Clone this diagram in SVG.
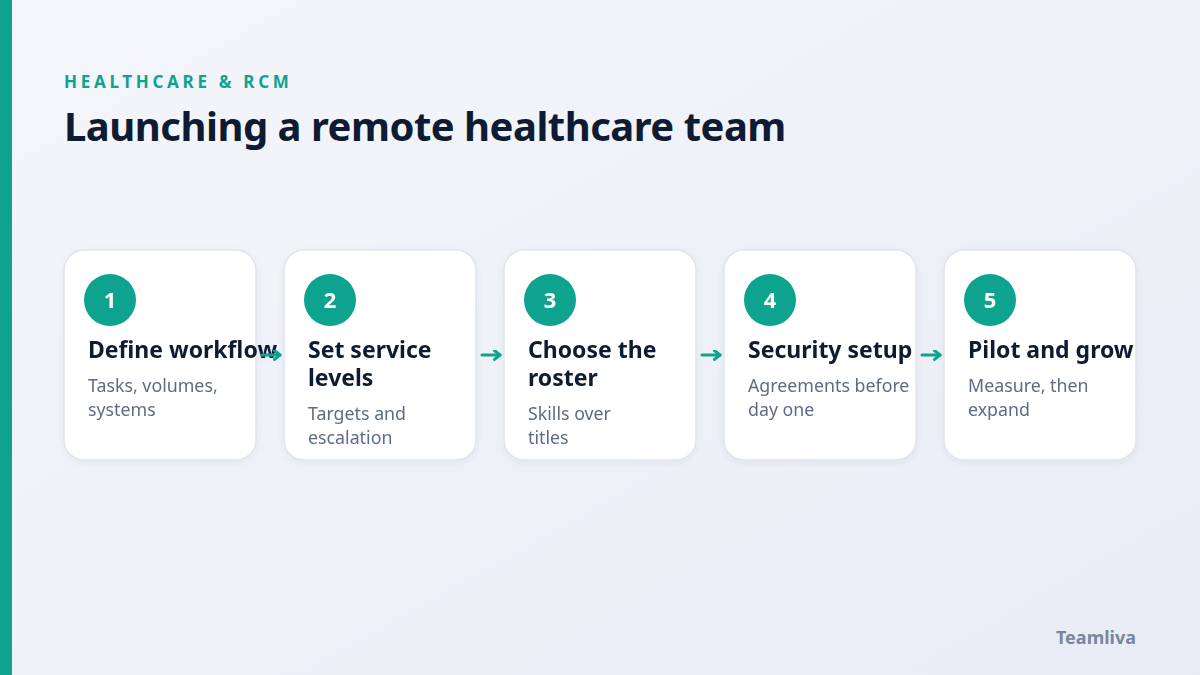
<svg xmlns="http://www.w3.org/2000/svg" width="1200" height="675" viewBox="0 0 1200 675">
<defs>
<linearGradient id="bg" x1="0" y1="0" x2="1" y2="1">
<stop offset="0" stop-color="#f4f6fa"/>
<stop offset="1" stop-color="#e8ecf5"/>
</linearGradient>
<filter id="sh" x="-10%" y="-10%" width="120%" height="130%">
<feDropShadow dx="0" dy="2" stdDeviation="3" flood-color="#1e2a4a" flood-opacity="0.05"/>
</filter>
<marker id="ah" viewBox="0 0 10 10" refX="7" refY="5" markerWidth="11" markerHeight="11" markerUnits="userSpaceOnUse" orient="auto">
<path d="M2,1 L7,5 L2,9" fill="none" stroke="#0ea38e" stroke-width="2.8" stroke-linecap="round" stroke-linejoin="round"/>
</marker>
</defs>
<style>
text{font-family:"Noto Sans","Open Sans","DejaVu Sans",sans-serif}
.card{fill:#ffffff;stroke:#dfe4ee;stroke-width:1.5}
.num{fill:#0ea38e}
.numt{fill:#ffffff;font-size:22px;font-weight:700;text-anchor:middle}
.title{fill:#0f1b33;font-size:23px;font-weight:700}
.desc{fill:#5f6b84;font-size:17.8px}
.conn{stroke:#0ea38e;stroke-width:3;fill:none;stroke-linecap:round}
</style>
<rect width="1200" height="675" fill="url(#bg)"/>
<rect x="0" y="0" width="12" height="675" fill="#0ea38e"/>
<text x="64" y="88" fill="#0ea38e" style="font-size:17px;font-weight:700;letter-spacing:3.7px">HEALTHCARE &amp; RCM</text>
<text x="64" y="141" fill="#0f1b33" style="font-size:40px;font-weight:700;letter-spacing:-0.5px">Launching a remote healthcare team</text>

<g id="node1" filter="url(#sh)">
<rect class="card" x="64" y="250" width="192" height="210" rx="20"/>
<circle class="num" cx="110" cy="300" r="26"/>
<text class="numt" x="110" y="308">1</text>
<text class="title" x="88" y="358">Define workflow</text>
<text class="desc" x="88" y="392">Tasks, volumes,</text>
<text class="desc" x="88" y="416">systems</text>
</g>
<g id="node2" filter="url(#sh)">
<rect class="card" x="284" y="250" width="192" height="210" rx="20"/>
<circle class="num" cx="330" cy="300" r="26"/>
<text class="numt" x="330" y="308">2</text>
<text class="title" x="308" y="358">Set service</text>
<text class="title" x="308" y="386">levels</text>
<text class="desc" x="308" y="420">Targets and</text>
<text class="desc" x="308" y="444">escalation</text>
</g>
<g id="node3" filter="url(#sh)">
<rect class="card" x="504" y="250" width="192" height="210" rx="20"/>
<circle class="num" cx="550" cy="300" r="26"/>
<text class="numt" x="550" y="308">3</text>
<text class="title" x="528" y="358">Choose the</text>
<text class="title" x="528" y="386">roster</text>
<text class="desc" x="528" y="420">Skills over</text>
<text class="desc" x="528" y="444">titles</text>
</g>
<g id="node4" filter="url(#sh)">
<rect class="card" x="724" y="250" width="192" height="210" rx="20"/>
<circle class="num" cx="770" cy="300" r="26"/>
<text class="numt" x="770" y="308">4</text>
<text class="title" x="748" y="358">Security setup</text>
<text class="desc" x="748" y="392">Agreements before</text>
<text class="desc" x="748" y="416">day one</text>
</g>
<g id="node5" filter="url(#sh)">
<rect class="card" x="944" y="250" width="192" height="210" rx="20"/>
<circle class="num" cx="990" cy="300" r="26"/>
<text class="numt" x="990" y="308">5</text>
<text class="title" x="968" y="358">Pilot and grow</text>
<text class="desc" x="968" y="392">Measure, then</text>
<text class="desc" x="968" y="416">expand</text>
</g>

<g id="connectors">
<line class="conn" x1="262" y1="355" x2="280" y2="355" marker-end="url(#ah)"/>
<line class="conn" x1="482" y1="355" x2="500" y2="355" marker-end="url(#ah)"/>
<line class="conn" x1="702" y1="355" x2="720" y2="355" marker-end="url(#ah)"/>
<line class="conn" x1="922" y1="355" x2="940" y2="355" marker-end="url(#ah)"/>
</g>

<text x="1136" y="644" text-anchor="end" fill="#7a869e" style="font-size:18px;font-weight:700">Teamliva</text>
</svg>
